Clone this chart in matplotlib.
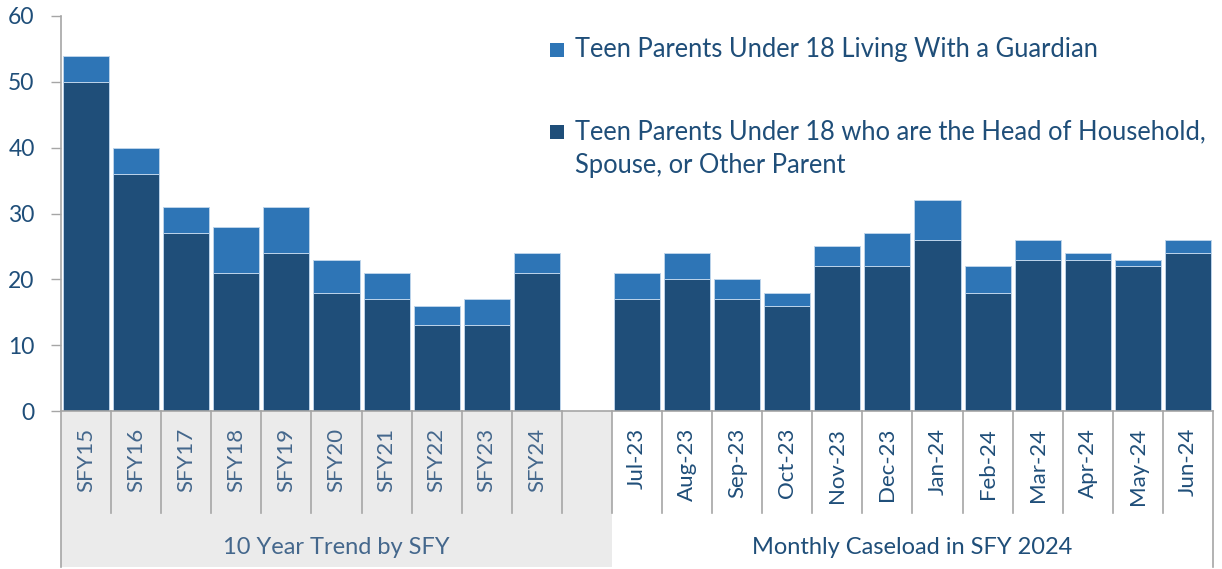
import matplotlib
matplotlib.use("Agg")
import matplotlib.pyplot as plt
from matplotlib.patches import Rectangle
from matplotlib.lines import Line2D
import matplotlib.transforms as mtransforms

# ---------------- data ----------------
sfy_labels = ["SFY15", "SFY16", "SFY17", "SFY18", "SFY19", "SFY20", "SFY21", "SFY22", "SFY23", "SFY24"]
sfy_head = [50, 36, 27, 21, 24, 18, 17, 13, 13, 21]
sfy_guardian = [4, 4, 4, 7, 7, 5, 4, 3, 4, 3]

month_labels = ["Jul-23", "Aug-23", "Sep-23", "Oct-23", "Nov-23", "Dec-23",
                "Jan-24", "Feb-24", "Mar-24", "Apr-24", "May-24", "Jun-24"]
month_head = [17, 20, 17, 16, 22, 22, 26, 18, 23, 23, 22, 24]
month_guardian = [4, 4, 3, 2, 3, 5, 6, 4, 3, 1, 1, 2]

group_labels = ["10 Year Trend by SFY", "Monthly Caseload in SFY 2024"]
legend_guardian = ["Teen Parents Under 18 Living With a Guardian"]
legend_head = ["Teen Parents Under 18 who are the Head of Household,", "Spouse, or Other Parent"]
y_ticks = [0, 10, 20, 30, 40, 50, 60]

# ---------------- style ----------------
plt.rcParams["font.family"] = ["Lato", "DejaVu Sans"]
DARK = "#1F4E79"
LIGHT = "#2E75B6"
EDGE = "#bcd3ea"
AXIS = "#a6a6a6"
BAND = "#ebebeb"
TXT = "#1F4E79"
TXT_LEFT = "#44678c"

W, H = 1222, 569
fig = plt.figure(figsize=(W / 100, H / 100), dpi=100)
x0, x1 = 61, 1213
y0, y1 = 411, 16
ax = fig.add_axes([x0 / W, (H - y0) / H, (x1 - x0) / W, (y0 - y1) / H])

labels = sfy_labels + [""] + month_labels
head = sfy_head + [0] + month_head
guard = sfy_guardian + [0] + month_guardian
n = len(labels)
xs = list(range(n))
bw = 0.92

for i in xs:
    if labels[i] == "":
        continue
    ax.bar(i, head[i], width=bw, color=DARK, edgecolor=EDGE, linewidth=0.7, zorder=2)
    ax.bar(i, guard[i], bottom=head[i], width=bw, color=LIGHT, edgecolor=EDGE, linewidth=0.7, zorder=2)

ax.set_xlim(-0.5, n - 0.5)
ax.set_ylim(0, 60)
ax.set_yticks(y_ticks)
ax.set_yticklabels([str(v) for v in y_ticks], fontsize=16.5, color=TXT)
ax.tick_params(axis="y", direction="out", length=7, width=1, color=AXIS, pad=12)
ax.set_xticks([])
for s in ["top", "right"]:
    ax.spines[s].set_visible(False)
ax.spines["left"].set_color(AXIS)
ax.spines["bottom"].set_color(AXIS)
ax.spines["left"].set_linewidth(1.2)
ax.spines["bottom"].set_linewidth(1.2)

# ---------------- category axis area (figure pixel coords) ----------------
def px(x, y):
    return (x / W, 1 - y / H)

slot = (x1 - x0) / n
band_bottom = 567
sep_bottom = 513
split_x = x0 + 11 * slot

# grey band for left group
fig.patches.append(Rectangle(px(x0, band_bottom), (split_x - x0) / W, (band_bottom - y0) / H,
                             transform=fig.transFigure, facecolor=BAND, edgecolor="none", zorder=-1))

# separators
for k in range(n + 1):
    xb = x0 + k * slot
    yb = band_bottom if k in (0, n) else sep_bottom
    fig.lines.append(Line2D([xb / W, xb / W], [1 - y0 / H, 1 - yb / H], transform=fig.transFigure,
                            color=AXIS, linewidth=1.2))

# category labels
trans = mtransforms.blended_transform_factory(ax.transData, fig.transFigure)
for i, lab in enumerate(labels):
    if not lab:
        continue
    col = TXT_LEFT if i < 10 else TXT
    ax.text(i, 1 - 428 / H, lab, transform=trans, rotation=90, ha="center", va="top",
            fontsize=16, color=col, clip_on=False, zorder=5)

# group labels
fig.text((x0 + split_x) / 2 / W, 1 - 547 / H, group_labels[0], ha="center", va="center",
         fontsize=17, color=TXT_LEFT)
fig.text((split_x + x1) / 2 / W, 1 - 547 / H, group_labels[1], ha="center", va="center",
         fontsize=17, color=TXT)

# ---------------- legend ----------------
msz = 14
for (base, col, lines) in [(57, LIGHT, legend_guardian), (139, DARK, legend_head)]:
    fig.patches.append(Rectangle(px(550, base), msz / W, msz / H, transform=fig.transFigure,
                                 facecolor=col, edgecolor="none"))
    for j, line in enumerate(lines):
        fig.text(575 / W, 1 - (base + 34 * j) / H, line, ha="left", va="baseline",
                 fontsize=18.4, color=TXT)

fig.savefig("out.png", dpi=100)
